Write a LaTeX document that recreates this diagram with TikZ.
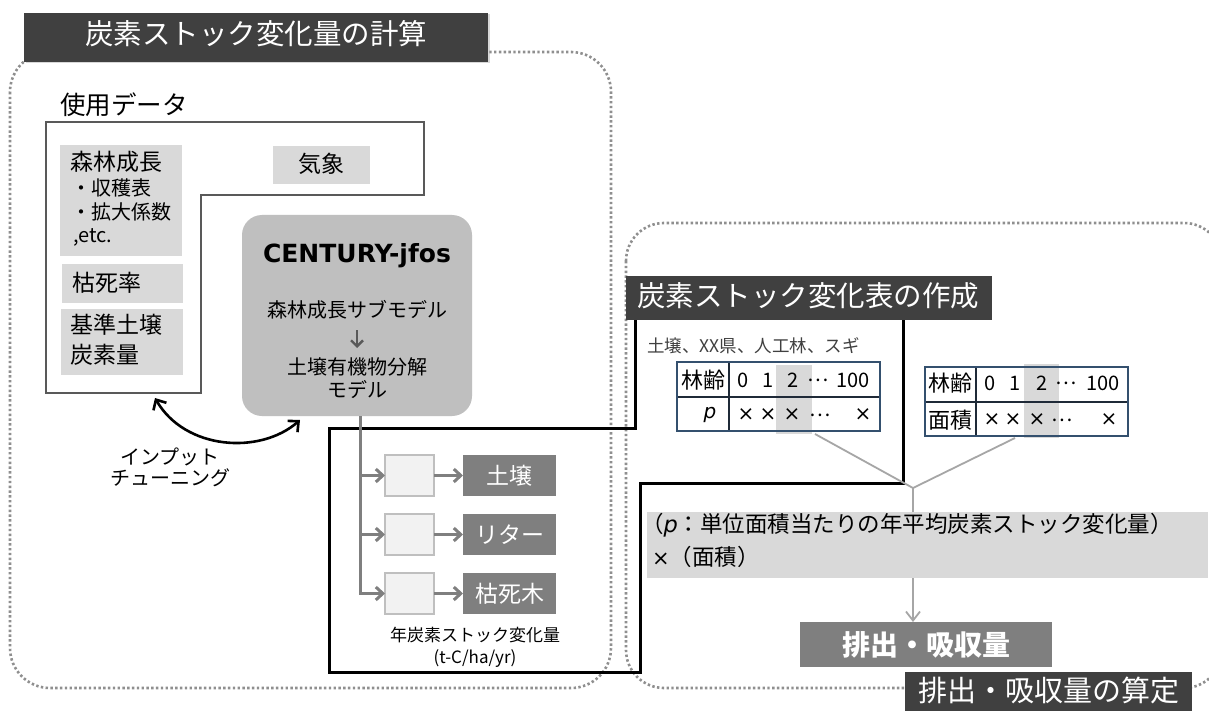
\documentclass[tikz,border=0pt]{standalone}
\usepackage{fontspec}
\setmainfont{Noto Sans CJK JP}
\newfontfamily\dejavu{DejaVu Sans}
\usetikzlibrary{arrows.meta,shadows}
\newcommand\fsz[2]{\fontsize{#1}{#2}\selectfont}
\definecolor{ttl}{HTML}{404040}
\definecolor{lg}{HTML}{D9D9D9}
\definecolor{mg}{HTML}{BFBFBF}
\definecolor{dg}{HTML}{7F7F7F}
\definecolor{vlg}{HTML}{F2F2F2}
\definecolor{dotc}{HTML}{8F8F8F}
\definecolor{frm}{HTML}{595959}
\definecolor{tblb}{HTML}{34506E}
\definecolor{tbli}{HTML}{1F2A38}
\definecolor{conn}{HTML}{A6A6A6}
\definecolor{txtg}{HTML}{404040}
\tikzset{
  rbox/.style={anchor=north west, inner sep=0pt, outer sep=0pt},
  lbl/.style={inner sep=0pt, outer sep=0pt},
  dotframe/.style={draw=dotc, line width=2.6pt, dash pattern=on 2.4pt off 2.4pt},
  titlebox/.style={rbox, fill=ttl},
  ttext/.style={lbl, text=white, font=\fsz{28.5}{34}},
  graybox/.style={rbox, fill=lg},
  lbox/.style={rbox, fill=vlg, draw=mg, line width=1.2pt},
  dbox/.style={rbox, fill=dg, text=white, font=\fsz{23}{27}},
  garr/.style={draw=dg, line width=3pt, -{Straight Barb[length=7pt,width=13pt]}},
  connl/.style={draw=conn, line width=1.8pt},
  tcell/.style={lbl, font=\fsz{20}{24}},
  tcellx/.style={lbl, font=\dejavu\fsz{20}{24}},
  tcellj/.style={lbl, font=\fsz{22}{26}},
}
\begin{document}
\begin{tikzpicture}[x=1pt,y=-1pt]
\useasboundingbox (0,0) rectangle (1209,711);
\clip (0,0) rectangle (1209,711);
\fill[white] (0,0) rectangle (1209,711);

% dotted frames
\draw[dotframe, rounded corners=40pt] (10,52) rectangle (611,688);
\draw[dotframe, rounded corners=38pt] (626,223) rectangle (1222,688);

% title 1
\node[titlebox, minimum width=464pt, minimum height=49pt,
      drop shadow={shadow xshift=1.5pt, shadow yshift=-1.5pt, opacity=0.3}] (t1) at (24,13) {};
\node[ttext] (t1txt) at (256,34) {炭素ストック変化量の計算};

% used data
\node[lbl, anchor=west, font=\fsz{25.5}{30}] (shiyo) at (60,105) {使用データ};
\draw[draw=frm, line width=2.2pt] (46,122) -- (424,122) -- (424,195) -- (201,195) -- (201,393) -- (46,393) -- cycle;

\node[graybox, minimum width=122pt, minimum height=111pt] (shinrin) at (60,145) {};
\node[lbl, anchor=west, font=\fsz{23}{27}] (shinrinT) at (70,162) {森林成長};
\node[lbl, anchor=west, font=\fsz{20}{24}] (shukaku) at (71,188) {・収穫表};
\node[lbl, anchor=west, font=\fsz{20}{24}] (kakudai) at (71,212) {・拡大係数};
\node[lbl, anchor=west, font=\fsz{20}{24}] (etc) at (73,237) {,etc.};

\node[graybox, minimum width=97pt, minimum height=38pt] (kisho) at (273,146) {};
\node[lbl, font=\fsz{23}{27}] (kishoT) at (321,164) {気象};

\node[graybox, minimum width=121pt, minimum height=39pt] (koshi) at (62,264) {};
\node[lbl, anchor=west, font=\fsz{23}{27}] (koshiT) at (72,283) {枯死率};

\node[graybox, minimum width=122pt, minimum height=66pt] (kijun) at (61,309) {};
\node[lbl, anchor=west, font=\fsz{23}{27}] (kijunT1) at (70,325) {基準土壌};
\node[lbl, anchor=west, font=\fsz{23}{27}] (kijunT2) at (70,355) {炭素量};

% CENTURY model
\node[rbox, fill=mg, rounded corners=20pt, minimum width=230pt, minimum height=201pt] (century) at (242,215) {};
\node[lbl, font=\dejavu\bfseries\fsz{25}{30}] (ctitle) at (357,256) {CENTURY-jfos};
\node[lbl, font=\fsz{20}{24}] (sub1) at (357,310) {森林成長サブモデル};
\node[lbl, font=\fsz{20}{23}, align=center] (sub2) at (357,378) {土壌有機物分解\\モデル};
\coordinate (a1) at (357,330);
\coordinate (a2) at (357,348);
\draw[draw=frm, line width=2.4pt, -{Straight Barb[length=6pt,width=12pt]}] (a1) -- (a2);

% input tuning
\coordinate (ca1) at (155,398);
\coordinate (ca2) at (300,420);
\draw[line width=2.6pt, {Straight Barb[length=8pt,width=15pt]}-{Straight Barb[length=8pt,width=15pt]}]
  (ca1) .. controls (185,450) and (260,455) .. (ca2);
\node[lbl, font=\fsz{20}{21}, align=center] (tune) at (170,467) {インプット\\チューニング};

% black frame
\draw[line width=3pt] (903,320) -- (903,483) -- (640,483) -- (640,672) -- (329,672) -- (329,428) -- (635,428) -- (635,320);

% outputs
\coordinate (tr0) at (360,416);
\node[lbox, minimum width=49pt, minimum height=41pt] (lb1) at (385,455) {};
\node[lbox, minimum width=49pt, minimum height=41pt] (lb2) at (385,514) {};
\node[lbox, minimum width=49pt, minimum height=41pt] (lb3) at (385,573) {};
\node[dbox, minimum width=93pt, minimum height=41pt] (db1) at (463,455) {土壌};
\node[dbox, minimum width=93pt, minimum height=41pt] (db2) at (463,514) {リター};
\node[dbox, minimum width=93pt, minimum height=41pt] (db3) at (463,573) {枯死木};
\draw[garr] (tr0) |- (lb3.west);
\draw[garr] (lb1.west -| tr0) -- (lb1.west);
\draw[garr] (lb2.west -| tr0) -- (lb2.west);
\draw[garr] (lb1) -- (db1);
\draw[garr] (lb2) -- (db2);
\draw[garr] (lb3) -- (db3);
\node[lbl, font=\fsz{17}{22}, align=center] (unit) at (475,647) {年炭素ストック変化量\\(t-C/ha/yr)};

% title 2
\node[titlebox, minimum width=366pt, minimum height=44pt] (t2) at (626,276) {};
\node[ttext] (t2txt) at (808,296) {炭素ストック変化表の作成};

\node[lbl, anchor=west, text=txtg, font=\fsz{17.5}{20}] (cond) at (647,346) {土壌、XX県、人工林、スギ};

% table 1
\fill[lg] (776,365) rectangle (812,434);
\draw[draw=tbli, line width=1.2pt] (729,362) -- (729,431);
\draw[draw=tbli, line width=1.2pt] (677,397) -- (880,397);
\draw[draw=tblb, line width=1.5pt] (677,362) rectangle (880,431);
\node[tcellj] (ta1) at (703,380) {林齢};
\node[tcell] (ta2) at (743,380) {0};
\node[tcell] (ta3) at (768,380) {1};
\node[tcell] (ta4) at (793,380) {2};
\node[tcell] (ta5) at (818,380) {…};
\node[tcell] (ta6) at (853,380) {100};
\node[tcell] (tb1l) at (710,415) {\dejavu\itshape p};
\node[tcellx] (tbx1) at (746,415) {×};
\node[tcellx] (tbx2) at (768,415) {×};
\node[tcellx] (tbx3) at (792,415) {×};
\node[tcell] (tbx4) at (820,415) {…};
\node[tcellx] (tbx5) at (863,415) {×};

% table 2
\fill[lg] (1024,364) rectangle (1059,438);
\draw[draw=tbli, line width=1.2pt] (976,367) -- (976,436);
\draw[draw=tbli, line width=1.2pt] (925,402) -- (1128,402);
\draw[draw=tblb, line width=1.5pt] (925,367) rectangle (1128,436);
\node[tcellj] (tc1) at (950,383) {林齢};
\node[tcell] (tc2) at (990,383) {0};
\node[tcell] (tc3) at (1015,383) {1};
\node[tcell] (tc4) at (1042,383) {2};
\node[tcell] (tc5) at (1066,383) {…};
\node[tcell] (tc6) at (1103,383) {100};
\node[tcellj] (td1) at (950,420) {面積};
\node[tcellx] (td2) at (992,420) {×};
\node[tcellx] (td3) at (1013,420) {×};
\node[tcellx] (td4) at (1037,420) {×};
\node[tcell] (td5) at (1062,420) {…};
\node[tcellx] (td6) at (1109,420) {×};

% formula and result
\node[graybox, minimum width=561pt, minimum height=66pt] (formula) at (647,512) {};
\node[lbl, anchor=west, font=\fsz{22.5}{26}] (f1) at (641,525) {（{\dejavu\itshape p}：単位面積当たりの年平均炭素ストック変化量）};
\node[lbl, anchor=west, font=\fsz{22.5}{26}] (f2) at (652,557) {{\dejavu\fsz{21}{24}×}（面積）};
\node[rbox, fill=dg, minimum width=252pt, minimum height=45pt, text=white, font=\bfseries\fsz{28}{32}] (result) at (800,622) {排出・吸収量};

\coordinate (tb1) at (815,434);
\coordinate (tb2) at (1015,438);
\coordinate (mj) at (913,488);
\draw[connl] (tb1) -- (mj);
\draw[connl] (tb2) -- (mj);
\draw[connl] (mj) -- (formula.north -| mj);
\draw[connl, -{Straight Barb[length=9pt,width=14pt]}] (formula.south -| mj) -- (result.north -| mj);

% title 3
\node[titlebox, minimum width=287pt, minimum height=39pt] (t3) at (905,672) {};
\node[ttext, font=\fsz{29}{34}] (t3txt) at (1049,690) {排出・吸収量の算定};
\end{tikzpicture}
\end{document}
